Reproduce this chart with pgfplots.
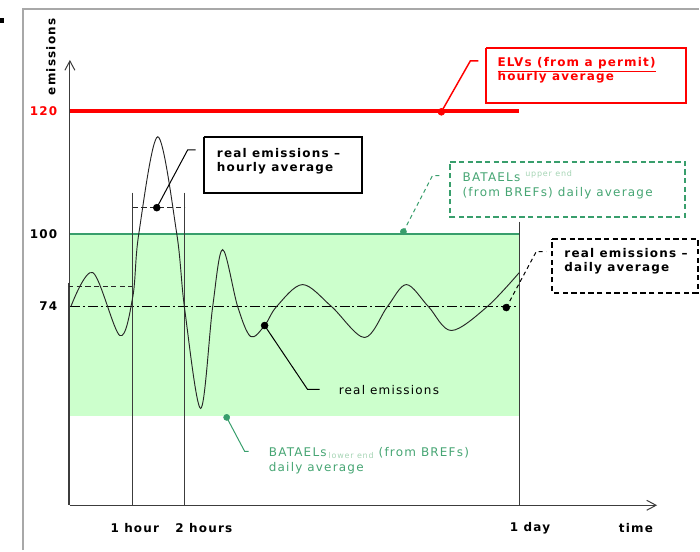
\documentclass[border=0pt]{standalone}
\usepackage{fontspec}
\setmainfont{DejaVu Sans}[LetterSpace=10]
\usepackage{pgfplots}
\pgfplotsset{compat=1.18}
\usetikzlibrary{arrows.meta}

\definecolor{elvred}{RGB}{255,0,0}
\definecolor{bandfill}{RGB}{204,255,204}
\definecolor{batgreen}{RGB}{56,158,108}
\definecolor{battext}{RGB}{70,165,115}
\definecolor{batpale}{RGB}{165,212,180}
\definecolor{framegray}{RGB}{168,168,168}
\definecolor{axgray}{RGB}{60,60,60}

\newcommand{\lab}{\fontsize{9}{11}\selectfont}

\begin{document}
\begin{tikzpicture}[font=\lab]
\begin{axis}[
    scale only axis,
    width=441pt, height=334.5pt,
    xmin=70, xmax=658, ymin=45, ymax=491,
    axis lines=left,
    axis line style={draw=axgray, line width=0.75pt, -{Straight Barb[length=7pt,width=7.5pt]}},
    clip=false,
    xtick={185,520},
    xticklabels={2 hours,1 day},
    extra x ticks={133},
    extra x tick labels={1 hour},
    extra x tick style={xticklabel style={xshift=-9.75pt}},
    ytick={244,317,440},
    yticklabels={74,100,\textcolor{elvred}{120}},
    major tick length=0pt,
    tick label style={font=\lab\bfseries},
    xticklabel style={anchor=west, yshift=-17.25pt, xshift=-10.5pt},
    yticklabel style={anchor=east, xshift=-6pt},
    xlabel={time}, ylabel={emissions},
    every axis x label/.style={at={(axis description cs:0.964,-0.0516)}, anchor=center, font=\lab\bfseries},
    every axis y label/.style={at={(axis description cs:-0.0323,1.0067)}, anchor=center, rotate=90, font=\lab\bfseries},
]

% outer frame and bullet
\addplot[framegray, line width=1.5pt] coordinates {(23,0) (23,542) (700,542)};
\addplot[fill=black, draw=none] coordinates {(0,528) (4,528) (4,533) (0,533)};

% BATAEL band
\addplot[fill=bandfill, draw=none] coordinates {(70.5,134) (520,134) (520,317) (70.5,317)};
\addplot[batgreen, line width=1.5pt] coordinates {(70,317) (520,317)};

% daily average (dash-dot)
\addplot[black, line width=0.75pt, dash pattern=on 7.5pt off 2.25pt on 1.5pt off 2.25pt] coordinates {(70,244) (520,244)};

% hourly averages (dashed)
\addplot[black!85, line width=0.75pt, dash pattern=on 4pt off 2.5pt] coordinates {(68,264) (133,264)};
\addplot[black!85, line width=0.75pt, dash pattern=on 4pt off 2.5pt] coordinates {(133,343) (185,343)};

% time boundaries
\addplot[axgray, line width=0.9pt] coordinates {(68.5,268) (68.5,45)};
\addplot[axgray, line width=0.9pt] coordinates {(133,358) (133,45)};
\addplot[axgray, line width=0.9pt] coordinates {(185,358) (185,45)};
\addplot[axgray, line width=0.9pt] coordinates {(520,329) (520,45)};

% real emissions
\addplot[black!85, line width=0.7pt, smooth, tension=0.55] coordinates {
    (71,244) (93,278) (120,215) (133,254) (139,317) (158,414) (177,317)
    (185,241) (201,142) (213,244) (223,301) (238,244) (251,214) (265,225)
    (277,244) (303,266) (332,244) (365,213) (388,244) (407,266) (429,244)
    (452,220) (488,244) (520,278)
};

% ELV line
\addplot[elvred, line width=3pt] coordinates {(70,440) (520,440)};

% leaders
\addplot[elvred, line width=1.1pt] coordinates {(442,439) (471,490) (479,490)};
\addplot[black, line width=0.75pt] coordinates {(157,343) (188,401) (196,401)};
\addplot[black, line width=0.75pt] coordinates {(265,225) (308,161) (320,161)};
\addplot[black, line width=0.75pt, dash pattern=on 3pt off 2.5pt] coordinates {(507,243) (537,299) (547,299)};
\addplot[batgreen, line width=0.75pt, dash pattern=on 3pt off 2.5pt] coordinates {(404,319) (433,375) (443,375)};
\addplot[batgreen, line width=0.75pt] coordinates {(227,133) (245,99) (249,99)};

% dots
\addplot[only marks, mark=*, mark size=2.6pt, elvred] coordinates {(442,439)};
\addplot[only marks, mark=*, mark size=2.6pt, black] coordinates {(157,343) (265,225) (507,243)};
\addplot[only marks, mark=*, mark size=2.3pt, batgreen] coordinates {(404,319) (227,133)};

% boxes
\addplot[elvred, line width=1.5pt] coordinates {(487,503) (687,503) (687,448) (487,448) (487,503)};
\addplot[black, line width=1.5pt] coordinates {(204,414) (363,414) (363,358) (204,358) (204,414)};
\addplot[black, line width=1.5pt, dash pattern=on 4pt off 2.5pt] coordinates {(553,312) (698.5,312) (698.5,258) (553,258) (553,312)};
\addplot[batgreen, line width=1.5pt, dash pattern=on 4pt off 2.5pt] coordinates {(451,389) (686,389) (686,334) (451,334) (451,389)};

% texts
\node[anchor=base west, inner sep=0pt, text=elvred, font=\lab\bfseries] at (axis cs:498,484) {\underline{ELVs (from a permit)}};
\node[anchor=base west, inner sep=0pt, text=elvred, font=\lab\bfseries] at (axis cs:498,470) {hourly average};

\node[anchor=base west, inner sep=0pt, font=\lab\bfseries] at (axis cs:217,393) {real emissions –};
\node[anchor=base west, inner sep=0pt, font=\lab\bfseries] at (axis cs:217,379) {hourly average};

\node[anchor=base west, inner sep=0pt, font=\lab\bfseries] at (axis cs:565,293) {real emissions –};
\node[anchor=base west, inner sep=0pt, font=\lab\bfseries] at (axis cs:565,279) {daily average};

\node[anchor=base west, inner sep=0pt, text=battext] at (axis cs:463,369) {BATAELs \raisebox{4pt}{\fontsize{6}{7}\selectfont\color{batpale}upper end}};
\node[anchor=base west, inner sep=0pt, text=battext] at (axis cs:463,354) {(from BREFs) daily average};

\node[anchor=base west, inner sep=0pt] at (axis cs:339,156) {real emissions};

\node[anchor=base west, inner sep=0pt, text=battext] at (axis cs:269,94) {BATAELs\,\raisebox{-1.5pt}{\fontsize{6}{7}\selectfont\color{batpale}lower end} (from BREFs)};
\node[anchor=base west, inner sep=0pt, text=battext] at (axis cs:269,79) {daily average};

\path (axis cs:0,0) rectangle (axis cs:700,551);
\end{axis}
\end{tikzpicture}
\end{document}
